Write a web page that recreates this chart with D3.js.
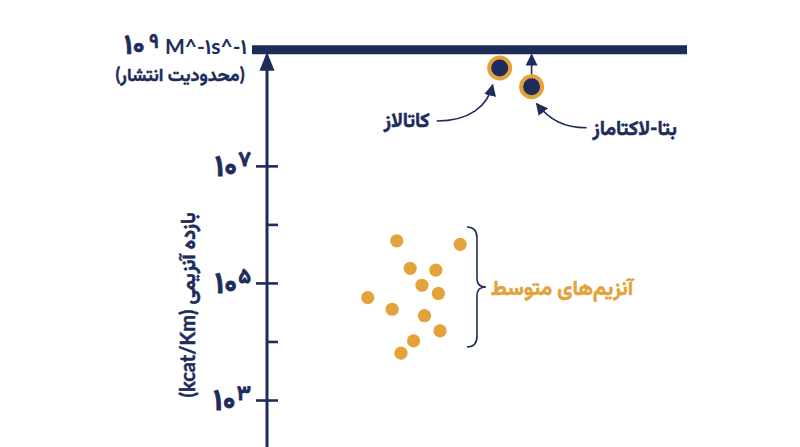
<!DOCTYPE html>
<html><head><meta charset="utf-8">
<script src="https://cdn.jsdelivr.net/npm/d3@7"></script>
<style>
html,body{margin:0;padding:0;background:#fff;}
svg{display:block;}
text{font-family:Lato,Vazirmatn,'Noto Sans Arabic','DejaVu Sans',sans-serif;font-weight:bold;}
</style></head>
<body>
<script>
// ---- data ----
const majorTicks = [1e3, 1e5, 1e7];
const minorTicks = [1e4, 1e6];
const tickExponents = ["۳", "۵", "۷"];
const limitValue = 1e9;
const fastEnzymes = [
  {name: "کاتالاز", x: 55.4, value: 4.7e8},
  {name: "بتا-لاکتاماز", x: 63.0, value: 2.25e8}
];
const mediumX = [30.9, 46.0, 34.1, 40.2, 36.9, 40.8, 24.0, 29.8, 37.5, 41.2, 34.9, 31.9];
const mediumLog = [5.72, 5.66, 5.25, 5.22, 4.96, 4.82, 4.75, 4.55, 4.44, 4.18, 4.01, 3.80];
const mediumLabel = "آنزیم‌های متوسط";
const yTitle = "بازده آنزیمی (kcat/Km)";
const limitLabel2 = "(محدودیت انتشار)";

const W = 800, H = 447;
const navy = "#1e2c5c", orange = "#e4a23a";

const svg = d3.select("body").append("svg").attr("width", W).attr("height", H);
const defs = svg.append("defs");
defs.append("marker").attr("id","ah2").attr("viewBox","0 0 10 10")
  .attr("refX",9).attr("refY",5).attr("markerWidth",12).attr("markerHeight",12)
  .attr("markerUnits","userSpaceOnUse").attr("orient","auto")
  .append("path").attr("d","M0,0 L10,5 L0,10 Z").attr("fill",navy);

const y = d3.scaleLog().domain([1e3, 1e9]).range([400, 48.8]);
const x = d3.scaleLinear().domain([0, 100]).range([267, 687]);
const ax = x(0);

// vertical axis line with arrow
svg.append("line").attr("x1",ax).attr("x2",ax).attr("y1",H).attr("y2",70)
  .attr("stroke",navy).attr("stroke-width",3);
svg.append("path")
  .attr("d",`M${ax-7.5},${y(limitValue)+22} L${ax+7.5},${y(limitValue)+22} L${ax},${y(limitValue)+3} Z`)
  .attr("fill",navy);

// ticks via d3 axes
const gR = svg.append("g").attr("transform",`translate(${ax},0)`)
  .call(d3.axisRight(y).tickValues(majorTicks.concat(minorTicks)).tickSize(11).tickFormat(""));
const gL = svg.append("g").attr("transform",`translate(${ax},0)`)
  .call(d3.axisLeft(y).tickValues(majorTicks).tickSize(11).tickFormat(""));
[gR,gL].forEach(g=>{
  g.select(".domain").remove();
  g.selectAll(".tick line").attr("stroke",navy).attr("stroke-width",2.6);
});

// tick labels
majorTicks.forEach((v,i)=>{
  const t = svg.append("text").attr("x",ax-16).attr("y",y(v)+10)
    .attr("text-anchor","end").attr("direction","ltr")
    .attr("fill",navy).attr("font-size",30).attr("stroke",navy).attr("stroke-width",0.8);
  t.append("tspan").text("۱۰");
  t.append("tspan").attr("font-size",21).attr("dy",-10).attr("dx",1).text(tickExponents[i]);
});

// diffusion limit line
svg.append("line").attr("x1",252).attr("x2",x(100)).attr("y1",y(limitValue)+1).attr("y2",y(limitValue)+1)
  .attr("stroke",navy).attr("stroke-width",9);

// top label
const tl = svg.append("text").attr("x",247).attr("y",54).attr("text-anchor","end")
  .attr("direction","ltr").attr("fill",navy).attr("font-size",21).attr("font-weight",900);
tl.append("tspan").attr("font-size",28).attr("stroke",navy).attr("stroke-width",0.7).text("۱۰");
tl.append("tspan").attr("font-size",20).attr("dy",-6).attr("dx",4).attr("stroke",navy).attr("stroke-width",0.5).text("۹");
tl.append("tspan").attr("dy",6).attr("dx",6).text("M^-۱s^-۱");
svg.append("text").attr("x",180).attr("y",81).attr("text-anchor","middle")
  .attr("fill",navy).attr("font-size",18).attr("stroke",navy).attr("stroke-width",0.4).text(limitLabel2);

// y title
svg.append("text").attr("transform",`translate(195,305) rotate(-90)`)
  .attr("text-anchor","middle").attr("direction","rtl").attr("font-weight",900)
  .attr("fill",navy).attr("font-size",20).attr("stroke",navy).attr("stroke-width",0.5).text(yTitle);

// medium enzymes
svg.append("g").selectAll("circle").data(mediumX).join("circle")
  .attr("cx",d=>x(d)).attr("cy",(d,i)=>y(Math.pow(10,mediumLog[i])))
  .attr("r",6.6).attr("fill",orange);

// brace
const bx = 467, by1 = 227, by2 = 347, bm = (by1+by2)/2;
svg.append("path")
  .attr("d",`M${bx},${by1} Q${bx+10},${by1} ${bx+10},${by1+11} L${bx+10},${bm-8} Q${bx+10},${bm} ${bx+19},${bm} Q${bx+10},${bm} ${bx+10},${bm+8} L${bx+10},${by2-11} Q${bx+10},${by2} ${bx},${by2}`)
  .attr("fill","none").attr("stroke",navy).attr("stroke-width",1.6);
svg.append("text").attr("x",562).attr("y",bm+8).attr("text-anchor","middle")
  .attr("fill",orange).attr("font-size",21).attr("stroke",orange).attr("stroke-width",0.5).text(mediumLabel);

// fast enzymes
const cat = fastEnzymes[0], bl = fastEnzymes[1];
const cx = x(cat.x), cy = y(cat.value), bxp = x(bl.x), byp = y(bl.value);

// beta-lactamase vertical arrow
svg.append("line").attr("x1",bxp).attr("x2",bxp).attr("y1",byp-12).attr("y2",y(limitValue)+6)
  .attr("stroke",navy).attr("stroke-width",1.6).attr("marker-end","url(#ah2)");

svg.append("g").selectAll("circle").data(fastEnzymes).join("circle")
  .attr("cx",d=>x(d.x)).attr("cy",d=>y(d.value)).attr("r",10.5)
  .attr("fill",navy).attr("stroke",orange).attr("stroke-width",4);

// curved annotation arrows
svg.append("path").attr("d",`M${cx-63},${cy+53} C${cx-30},${cy+53} ${cx-12},${cy+38} ${cx-7},${cy+17}`)
  .attr("fill","none").attr("stroke",navy).attr("stroke-width",1.6).attr("marker-end","url(#ah2)");
svg.append("path").attr("d",`M${bxp+55},${byp+41} C${bxp+32},${byp+41} ${bxp+18},${byp+33} ${bxp+5},${byp+17}`)
  .attr("fill","none").attr("stroke",navy).attr("stroke-width",1.6).attr("marker-end","url(#ah2)");

svg.append("text").attr("x",cx-93).attr("y",cy+59).attr("text-anchor","middle")
  .attr("fill",navy).attr("font-size",20).attr("stroke",navy).attr("stroke-width",0.5).text(cat.name);
svg.append("text").attr("x",bxp+103).attr("y",byp+48).attr("text-anchor","middle")
  .attr("fill",navy).attr("font-size",20).attr("stroke",navy).attr("stroke-width",0.5).text(bl.name);
</script>
</body></html>
